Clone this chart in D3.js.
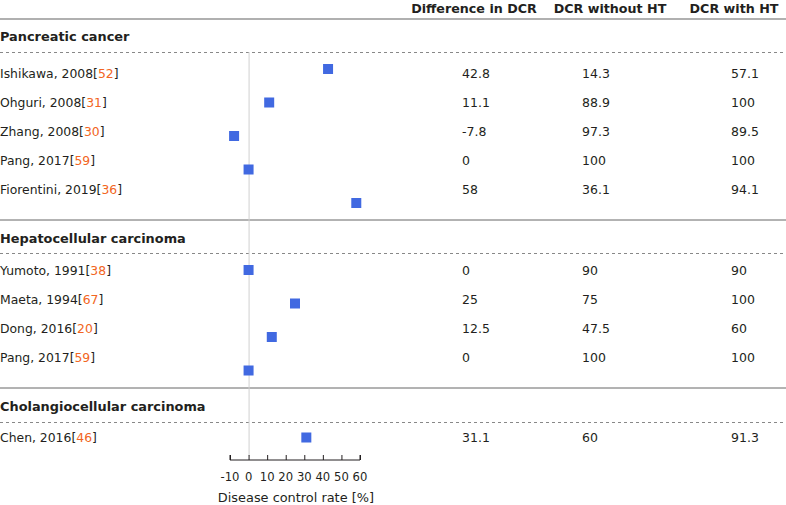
<!DOCTYPE html>
<html>
<head>
<meta charset="utf-8">
<script src="https://cdn.jsdelivr.net/npm/d3@7"></script>
<style>
  body { margin: 0; background: #fff; }
  text { font-family: "DejaVu Sans", Verdana, sans-serif; fill: #231f20; }
</style>
</head>
<body>
<script>
// data
var groups = ["Pancreatic cancer", "Hepatocellular carcinoma", "Cholangiocellular carcinoma"];
var studies = ["Ishikawa, 2008", "Ohguri, 2008", "Zhang, 2008", "Pang, 2017", "Fiorentini, 2019",
               "Yumoto, 1991", "Maeta, 1994", "Dong, 2016", "Pang, 2017",
               "Chen, 2016"];
var refs = ["52", "31", "30", "59", "36", "38", "67", "20", "59", "46"];
var groupOf = [0, 0, 0, 0, 0, 1, 1, 1, 1, 2];
var difference = [42.8, 11.1, -7.8, 0, 58, 0, 25, 12.5, 0, 31.1];
var withoutHT = [14.3, 88.9, 97.3, 100, 36.1, 90, 75, 47.5, 100, 60];
var withHT = [57.1, 100, 89.5, 100, 94.1, 90, 100, 60, 100, 91.3];
var columns = ["Difference in DCR", "DCR without HT", "DCR with HT"];
var xTicks = [-10, 0, 10, 20, 30, 40, 50, 60];

var width = 786, height = 505;

var svg = d3.select("body").append("svg")
    .attr("width", width)
    .attr("height", height);

// layout of the table
var groupTop = [19, 220, 388];      // solid line above each group
var headerY = [36, 238, 406];
var dashY = [52, 253, 422];
var rowStart = [74, 271, 438];
var rowGap = 29;

var rowY = studies.map(function(d, i) {
    var g = groupOf[i];
    var k = groupOf.slice(0, i).filter(function(v) { return v == g; }).length;
    return rowStart[g] + k * rowGap;
});

// markers sit on an even grid of slots (one empty slot between groups)
var slot = studies.map(function(d, i) { return i + groupOf[i]; });
var yMark = d3.scaleLinear().domain([0, 11]).range([69, 437.5]);

var x = d3.scaleLinear().domain([-10, 60]).range([230, 360]);

// column headers
var colX = [474, 610, 734];
svg.selectAll(".colhead")
    .data(columns)
    .enter().append("text")
    .attr("class", "colhead")
    .attr("x", function(d, i) { return colX[i]; })
    .attr("y", 9)
    .attr("dy", "0.35em")
    .attr("text-anchor", "middle")
    .style("font-weight", "bold")
    .style("font-size", "12.7px")
    .text(function(d) { return d; });

// solid lines
svg.selectAll(".solid")
    .data(groupTop)
    .enter().append("line")
    .attr("x1", 0).attr("x2", width)
    .attr("y1", function(d) { return d; })
    .attr("y2", function(d) { return d; })
    .attr("stroke", function(d, i) { return i == 0 ? "#b0b0b0" : "#666"; })
    .attr("stroke-width", function(d, i) { return i == 0 ? 2 : 1; });

// dashed lines
svg.selectAll(".dash")
    .data(dashY)
    .enter().append("line")
    .attr("x1", 0).attr("x2", width)
    .attr("y1", function(d) { return d + 0.5; })
    .attr("y2", function(d) { return d + 0.5; })
    .attr("stroke", "#888")
    .attr("stroke-dasharray", "3,3");

// group titles
svg.selectAll(".group")
    .data(groups)
    .enter().append("text")
    .attr("x", 0)
    .attr("y", function(d, i) { return headerY[i]; })
    .attr("dy", "0.35em")
    .style("font-weight", "bold")
    .style("font-size", "12.9px")
    .text(function(d) { return d; });

// zero line
svg.append("line")
    .attr("x1", x(0) + 0.5).attr("x2", x(0) + 0.5)
    .attr("y1", dashY[0]).attr("y2", 456)
    .attr("stroke", "#d0d0d0");

// study names with orange references
var labels = svg.selectAll(".study")
    .data(studies)
    .enter().append("text")
    .attr("x", 0)
    .attr("y", function(d, i) { return rowY[i]; })
    .attr("dy", "0.35em")
    .style("font-size", "12.4px");
labels.append("tspan").text(function(d) { return d; });
labels.append("tspan").text("[");
labels.append("tspan").style("fill", "#f26522").text(function(d, i) { return refs[i]; });
labels.append("tspan").text("]");

// value columns
var valX = [462, 582, 731];
[difference, withoutHT, withHT].forEach(function(col, c) {
    svg.selectAll(".val" + c)
        .data(col)
        .enter().append("text")
        .attr("x", valX[c])
        .attr("y", function(d, i) { return rowY[i]; })
        .attr("dy", "0.35em")
        .style("font-size", "12.5px")
        .text(function(d) { return d; });
});

// markers
svg.selectAll(".mark")
    .data(difference)
    .enter().append("rect")
    .attr("x", function(d) { return x(d) - 5; })
    .attr("y", function(d, i) { return yMark(slot[i]) - 5; })
    .attr("width", 10)
    .attr("height", 10)
    .attr("fill", "#4169e1");

// axis
var axis = svg.append("g")
    .attr("transform", "translate(0,460)")
    .call(d3.axisTop(x).tickValues(xTicks).tickSize(5).tickFormat(""));
axis.select(".domain").attr("stroke", "#231f20").attr("d", "M230,-5V0H360V-5");
axis.selectAll(".tick line").attr("stroke", "#231f20");

svg.selectAll(".ticklab")
    .data(xTicks)
    .enter().append("text")
    .attr("x", function(d) { return x(d); })
    .attr("y", 477)
    .attr("dy", "0.35em")
    .attr("text-anchor", "middle")
    .style("font-size", "11.6px")
    .text(function(d) { return d; });

svg.append("text")
    .attr("x", x(25.5))
    .attr("y", 497)
    .attr("dy", "0.35em")
    .attr("text-anchor", "middle")
    .style("font-size", "12.9px")
    .text("Disease control rate [%]");
</script>
</body>
</html>
